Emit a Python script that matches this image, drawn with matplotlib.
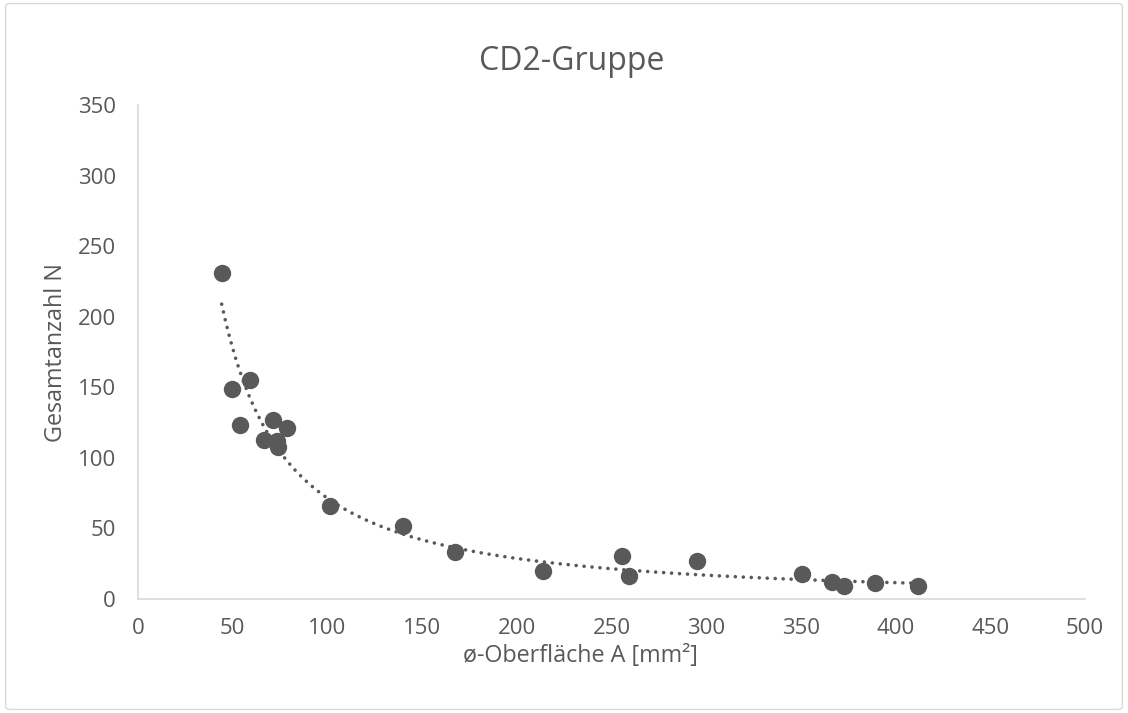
import numpy as np
import matplotlib
matplotlib.use('Agg')
import matplotlib.pyplot as plt
from matplotlib.patches import FancyBboxPatch

# values
flaeche = [44.2, 49.8, 54.0, 59.3, 66.4, 71.3, 73.4, 73.7, 78.8, 101.5,
           139.7, 167.6, 214.0, 255.5, 259.4, 295.0, 350.7, 366.4, 372.6,
           389.0, 411.8]
anzahl = [231, 149, 123, 155, 113, 127, 112, 107.5, 121, 66,
          52, 33, 20, 30.5, 16, 27, 18, 12, 9.5, 11, 9.5]

x_ticks = [0, 50, 100, 150, 200, 250, 300, 350, 400, 450, 500]
y_ticks = [0, 50, 100, 150, 200, 250, 300, 350]

grey = '#595959'
plt.rcParams['font.family'] = ['Open Sans', 'DejaVu Sans']

fig = plt.figure(figsize=(11.28, 7.13), dpi=100)
ax = fig.add_axes([0.1223, 0.1599, 0.8396, 0.6928])

# power trendline like Excel (least squares on logs)
b, ln_a = np.polyfit(np.log(flaeche), np.log(anzahl), 1)
xs = np.linspace(min(flaeche), max(flaeche), 200)
ax.plot(xs, np.exp(ln_a) * xs ** b, color=grey, lw=2.6,
        linestyle=(0, (0.01, 2.2)), dash_capstyle='round', zorder=2)

ax.plot(flaeche, anzahl, 'o', color=grey, markersize=11.5, zorder=3)

ax.set_xlim(0, 500)
ax.set_ylim(0, 350)
ax.set_xticks(x_ticks)
ax.set_yticks(y_ticks)
ax.tick_params(length=0, labelsize=16, colors=grey)
ax.tick_params(axis='y', pad=16)
ax.tick_params(axis='x', pad=14)
for s in ['top', 'right']:
    ax.spines[s].set_visible(False)
for s in ['left', 'bottom']:
    ax.spines[s].set_color('#d9d9d9')
    ax.spines[s].set_linewidth(1.2)

fig.text(0.5067, 0.9018, 'CD2-Gruppe', ha='center', va='baseline',
         fontsize=23, color=grey)
fig.text(0.5146, 0.0715, 'ø-Oberfläche A [mm²]', ha='center', va='baseline',
         fontsize=16.8, color=grey)
fig.text(0.0496, 0.506, 'Gesamtanzahl N', ha='center', va='center',
         rotation=90, fontsize=16.8, color=grey)

fig.patches.append(FancyBboxPatch((0.005, 0.005), 0.99, 0.99,
                                  boxstyle='round,pad=0,rounding_size=0.004',
                                  transform=fig.transFigure, fill=False,
                                  edgecolor='#d9d9d9', lw=1))

fig.savefig('out.png', dpi=100)
